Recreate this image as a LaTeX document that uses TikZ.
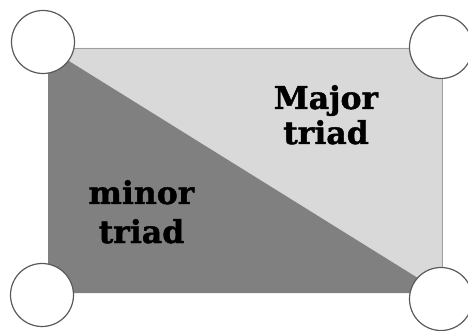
\documentclass[tikz,border=0pt]{standalone}
\usepackage{fontspec}
\setmainfont{DejaVu Serif}
\newfontfamily\triadfont[FakeBold=1.3]{DejaVu Serif}
\begin{document}
\begin{tikzpicture}[x=1pt,y=-1pt,
  vertex/.style={circle,draw=black!65,line width=1.2pt,fill=white,minimum size=63pt,inner sep=0pt},
  label/.style={font=\triadfont\bfseries\fontsize{31.5}{35}\selectfont,text=black,anchor=base,inner sep=0pt},
  edge/.style={draw=black!38,line width=0.8pt}]
\useasboundingbox (0,0) rectangle (468,331);
% corners of the tonal field
\coordinate (tl) at (48,48);
\coordinate (tr) at (442,48);
\coordinate (bl) at (48,293);
\coordinate (br) at (442,293);
% the two halves of the rectangle
\fill[black!15] (tl) -- (tr) -- (br) -- cycle;
\fill[black!50] (tl) -- (bl) -- (br) -- cycle;
\draw[edge] (tl) -- (tr) -- (br);
% corner notes
\node[vertex] (ntl) at (43,42) {};
\node[vertex] (ntr) at (441,47) {};
\node[vertex] (nbl) at (42,295) {};
\node[vertex] (nbr) at (441,299) {};
% labels
\node[label] (maj1) at (326,109) {Major};
\node[label] (maj2) at (326,144) {triad};
\node[label] (min1) at (141.5,204) {minor};
\node[label] (min2) at (141.5,243) {triad};
\end{tikzpicture}
\end{document}
